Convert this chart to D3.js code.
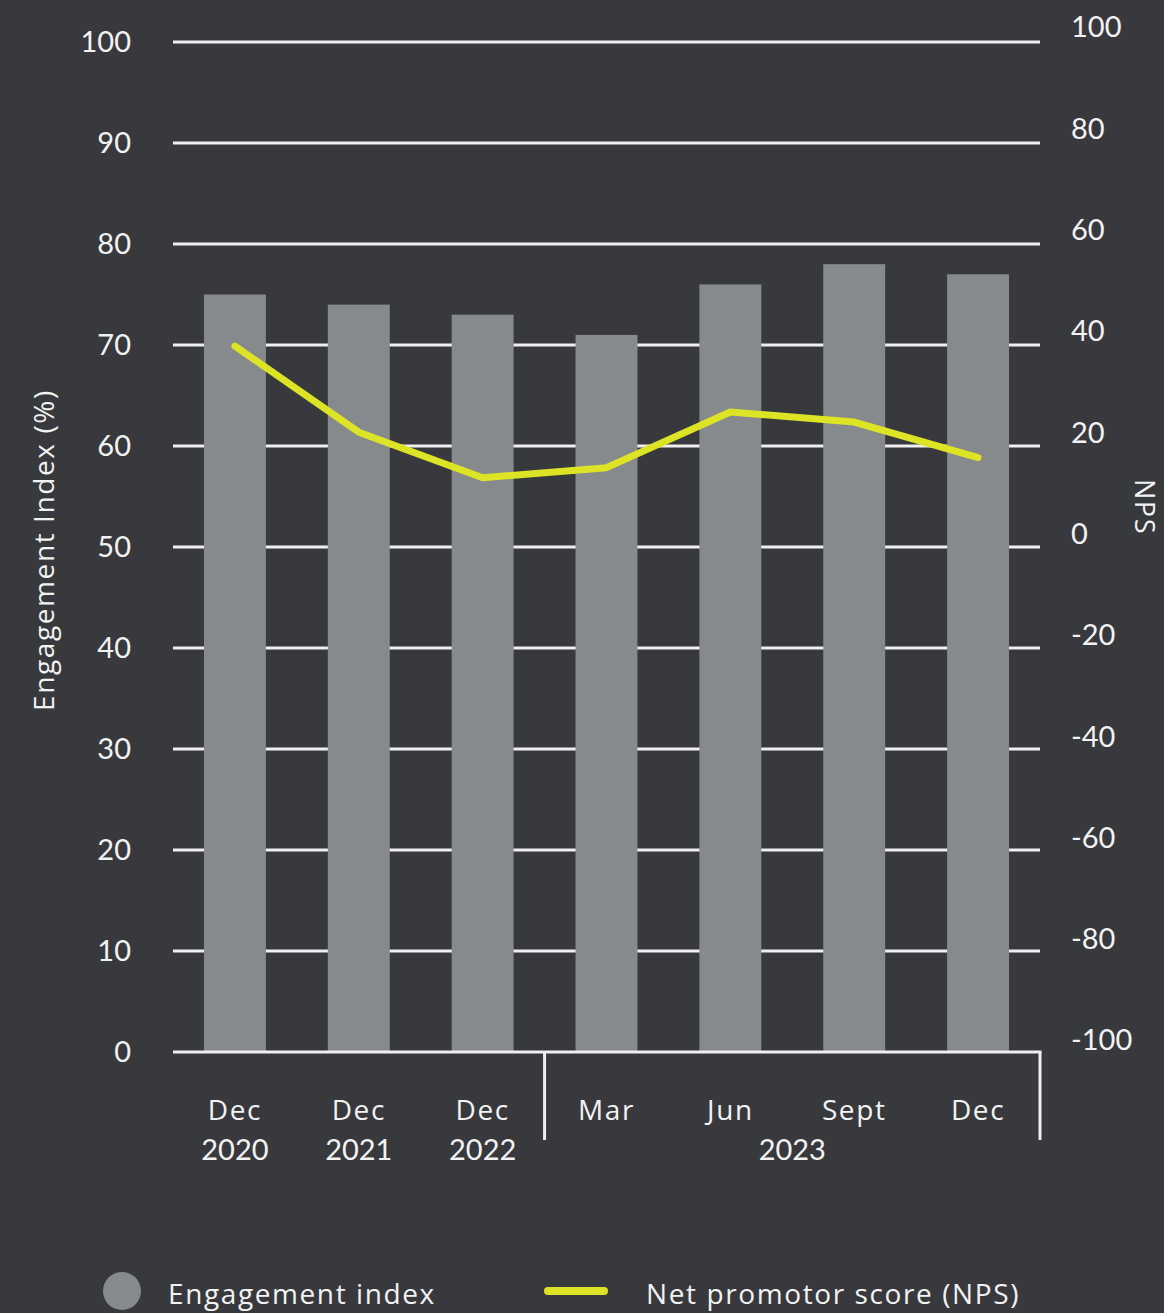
<!DOCTYPE html>
<html>
<head>
<meta charset="utf-8">
<script src="https://cdn.jsdelivr.net/npm/d3@7"></script>
<style>
  html, body { margin: 0; padding: 0; background: #38393d; }
  svg { display: block; }
  text { font-family: "Open Sans", Lato, sans-serif; fill: #f2f2f2; letter-spacing: 1.6px; }
  .num { font-family: Lato, "Open Sans", sans-serif; letter-spacing: 0; }
</style>
</head>
<body>
<svg id="chart" width="1164" height="1313"></svg>
<script>
// Survey periods
const periods = ["Dec 2020", "Dec 2021", "Dec 2022", "Mar 2023", "Jun 2023", "Sept 2023", "Dec 2023"];
const monthLabels = ["Dec", "Dec", "Dec", "Mar", "Jun", "Sept", "Dec"];
const yearLabels = ["2020", "2021", "2022", "", "", "", ""];
const groupYear = "2023";

// Engagement index (%) per period
const engagement = [75, 74, 73, 71, 76, 78, 77];
// Net promotor score per period
const nps = [37, 20, 11, 13, 24, 22, 15];

const leftTicks = [0, 10, 20, 30, 40, 50, 60, 70, 80, 90, 100];
const rightTicks = [-100, -80, -60, -40, -20, 0, 20, 40, 60, 80, 100];

const BAR = "#878a8d", LINE = "#dde325", GRID = "#efefef";

const svg = d3.select("#chart");
const left = 173, right = 1040;

const x = d3.scaleBand().domain(periods).range([left, right]).paddingInner(0.5).paddingOuter(0.25);
const y = d3.scaleLinear().domain([0, 100]).range([1052, 42]);
const y2 = d3.scaleLinear().domain([-100, 100]).range([1040, 27]);

// Horizontal gridlines
svg.append("g").selectAll("line").data(leftTicks.filter(d => d > 0)).join("line")
  .attr("x1", left).attr("x2", right)
  .attr("y1", d => y(d)).attr("y2", d => y(d))
  .attr("stroke", GRID).attr("stroke-width", 3);

// Bars
svg.append("g").selectAll("rect").data(engagement).join("rect")
  .attr("x", (d, i) => x(periods[i]))
  .attr("width", x.bandwidth())
  .attr("y", d => y(d))
  .attr("height", d => y(0) - y(d))
  .attr("fill", BAR);

// Baseline and period separators
const base = svg.append("g").attr("stroke", GRID).attr("stroke-width", 3).attr("fill", "none");
base.append("line").attr("x1", left).attr("x2", right + 1.5).attr("y1", y(0)).attr("y2", y(0));
const sepX = (x(periods[2]) + x.bandwidth() + x(periods[3])) / 2;
base.append("line").attr("x1", sepX).attr("x2", sepX).attr("y1", y(0)).attr("y2", 1140);
base.append("line").attr("x1", right).attr("x2", right).attr("y1", y(0)).attr("y2", 1140);

// NPS line
const line = d3.line()
  .x((d, i) => x(periods[i]) + x.bandwidth() / 2)
  .y(d => y2(d));
svg.append("path").datum(nps)
  .attr("d", line)
  .attr("fill", "none").attr("stroke", LINE)
  .attr("stroke-width", 7).attr("stroke-linecap", "round").attr("stroke-linejoin", "round");

// Left axis labels
svg.append("g").selectAll("text").data(leftTicks).join("text")
  .attr("class", "num")
  .attr("x", 131).attr("y", d => y(d)).attr("dy", "0.36em")
  .attr("text-anchor", "end").attr("font-size", 29)
  .text(d => d);

// Right axis labels
svg.append("g").selectAll("text").data(rightTicks).join("text")
  .attr("class", "num")
  .attr("x", 1071).attr("y", d => y2(d)).attr("dy", "0.36em")
  .attr("text-anchor", "start").attr("font-size", 29)
  .text(d => d);

// Axis titles
svg.append("text")
  .attr("transform", "translate(54,550) rotate(-90)")
  .attr("text-anchor", "middle").attr("font-size", 28)
  .text("Engagement Index (%)");
svg.append("text")
  .attr("transform", "translate(1135,507) rotate(90)")
  .attr("text-anchor", "middle").attr("font-size", 27)
  .text("NPS");

// Category labels
const xl = svg.append("g").attr("font-size", 28).attr("text-anchor", "middle");
xl.selectAll("text.m").data(monthLabels).join("text").attr("class", "m")
  .attr("x", (d, i) => x(periods[i]) + x.bandwidth() / 2)
  .attr("y", 1120).text(d => d);
xl.selectAll("text.yr").data(yearLabels).join("text").attr("class", "yr num")
  .attr("x", (d, i) => x(periods[i]) + x.bandwidth() / 2)
  .attr("y", 1160).attr("font-size", 29).text(d => d);
xl.append("text").attr("class", "num")
  .attr("x", (x(periods[3]) + x(periods[6]) + x.bandwidth()) / 2)
  .attr("y", 1160).attr("font-size", 29).text(groupYear);

// Legend
const lg = svg.append("g").attr("font-size", 28);
lg.append("circle").attr("cx", 122).attr("cy", 1291).attr("r", 19).attr("fill", BAR);
lg.append("text").attr("x", 168).attr("y", 1304).text("Engagement index");
lg.append("line").attr("x1", 548).attr("x2", 604).attr("y1", 1291).attr("y2", 1291)
  .attr("stroke", LINE).attr("stroke-width", 8).attr("stroke-linecap", "round");
lg.append("text").attr("x", 646).attr("y", 1304).text("Net promotor score (NPS)");
</script>
</body>
</html>
